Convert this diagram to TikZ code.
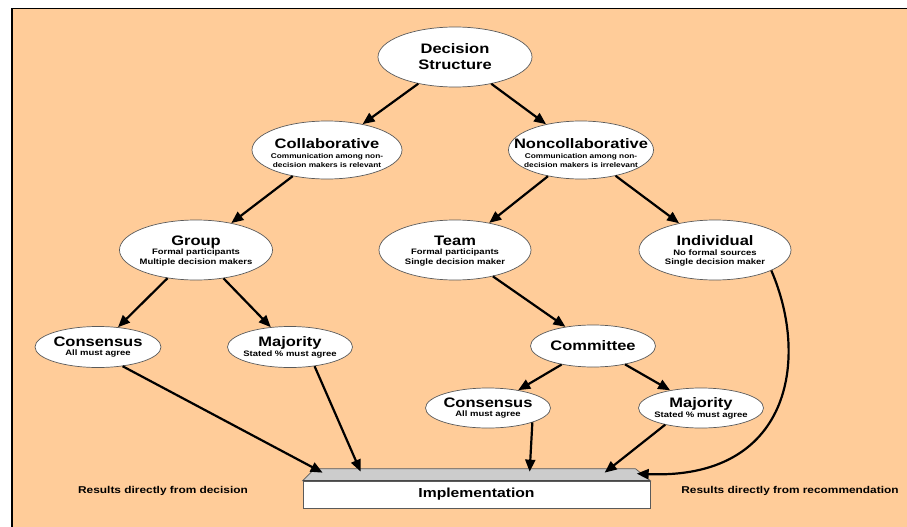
\documentclass[tikz,border=0pt]{standalone}
\usepackage{fontspec}
\setmainfont{Liberation Sans}[FakeStretch=1.2]
\usetikzlibrary{arrows.meta,shapes.geometric}

\definecolor{panel}{HTML}{FFCC99}
\definecolor{rim}{HTML}{5A5A5A}
\definecolor{slabtop}{HTML}{CCCCCC}

\newcommand\ttlfont{\fontsize{13.75}{16}\selectfont\bfseries}
\newcommand\subfont{\fontsize{7.9}{9.8}\selectfont\bfseries}
\newcommand\smsubfont{\fontsize{6.9}{9}\selectfont\bfseries}

\begin{document}
\begin{tikzpicture}[x=1pt,y=-1pt,
  oval/.style={ellipse,draw=rim,line width=0.7pt,fill=white,inner sep=0pt},
  txt/.style={align=center,inner sep=0pt},
  flow/.style={line width=2.2pt,-{Triangle[length=12pt,width=10pt]}},
  note/.style={font=\fontsize{9.9}{11}\selectfont\bfseries,inner sep=0pt},
  ]
\useasboundingbox (0,0) rectangle (907,527);
\clip (0,0) rectangle (907,527);
\fill[white] (0,0) rectangle (907,527);
\draw[line width=1.6pt,fill=panel] (12,8.5) rectangle (920,540);

% decision hierarchy: ellipses
\node[oval,minimum width=154pt,minimum height=60pt] (ds) at (455,57) {};
\node[oval,minimum width=150pt,minimum height=58pt] (coll) at (327,150) {};
\node[oval,minimum width=145pt,minimum height=58pt] (ncoll) at (581,150) {};
\node[oval,minimum width=153pt,minimum height=60pt] (grp) at (196,250) {};
\node[oval,minimum width=152pt,minimum height=60pt] (team) at (455,250) {};
\node[oval,minimum width=152pt,minimum height=60pt] (indiv) at (715,250) {};
\node[oval,minimum width=126pt,minimum height=41pt] (consl) at (98,347) {};
\node[oval,minimum width=125pt,minimum height=41pt] (majl) at (290,347) {};
\node[oval,minimum width=125pt,minimum height=42pt] (comm) at (593,346) {};
\node[oval,minimum width=125pt,minimum height=40pt] (consr) at (488,408) {};
\node[oval,minimum width=125pt,minimum height=40pt] (majr) at (701,408) {};

% texts inside the ellipses
\node[txt,font=\ttlfont] (ds-t) at (ds) {Decision\\Structure};
\node[txt,font=\smsubfont] (coll-t) at (327,153) {{\ttlfont Collaborative}\\[1pt]Communication among non-\\decision makers is relevant};
\node[txt,font=\smsubfont] (ncoll-t) at (581,153) {{\ttlfont Noncollaborative}\\[1pt]Communication among non-\\decision makers is irrelevant};
\node[txt,font=\subfont] (grp-t) at (196,251) {{\ttlfont Group}\\Formal participants\\Multiple decision makers};
\node[txt,font=\subfont] (team-t) at (455,251) {{\ttlfont Team}\\Formal participants\\Single decision maker};
\node[txt,font=\subfont] (indiv-t) at (715,251) {{\ttlfont Individual}\\No formal sources\\Single decision maker};
\node[txt,font=\subfont] (consl-t) at (98,347) {{\ttlfont Consensus}\\All must agree};
\node[txt,font=\subfont] (majl-t) at (290,347) {{\ttlfont Majority}\\Stated \% must agree};
\node[txt,font=\ttlfont] (comm-t) at (comm) {Committee};
\node[txt,font=\subfont] (consr-t) at (488,408) {{\ttlfont Consensus}\\All must agree};
\node[txt,font=\subfont] (majr-t) at (701,408) {{\ttlfont Majority}\\Stated \% must agree};

% implementation slab: front face and bevelled top
\node[draw=rim,line width=0.7pt,fill=white,minimum width=347pt,minimum height=27pt,inner sep=0pt,
      font=\fontsize{13.1}{15}\selectfont\bfseries] (impl) at (476.5,494.5) {Implementation};
\draw[draw=rim,line width=0.7pt,fill=slabtop] (impl.north west) -- ++(12pt,12pt)
  -- ([shift={(-15pt,12pt)}]impl.north east) -- (impl.north east) -- cycle;
\draw[draw=rim!80!black,line width=1.4pt] (impl.north west) -- (impl.north east);

% side notes
\node[note] (left-note) at (163,491) {Results directly from decision};
\node[note] (right-note) at (790,491) {Results directly from recommendation};

% connectors
\draw[flow] (ds) -- (coll);
\draw[flow] (ds) -- (ncoll);
\draw[flow] (coll) -- (grp);
\draw[flow] (ncoll) -- (team);
\draw[flow] (ncoll) -- (indiv);
\draw[flow] (grp) -- (consl);
\draw[flow] (grp) -- (majl);
\draw[flow] (team) -- (comm);
\draw[flow] (comm) -- (consr);
\draw[flow] (comm) -- (majr);
\draw[flow] (consl.-38) -- ([shift={(20pt,8pt)}]impl.north west);
\draw[flow] (majl.-38) -- ([shift={(58pt,9pt)}]impl.north west);
\draw[flow] (consr.-18.4) -- ([shift={(227pt,9pt)}]impl.north west);
\draw[flow] (majr.205) -- ([shift={(302pt,8pt)}]impl.north west);
\draw[flow] (indiv.-20) .. controls (810,360) and (790,480) .. ([shift={(334pt,7pt)}]impl.north west);
\end{tikzpicture}
\end{document}
